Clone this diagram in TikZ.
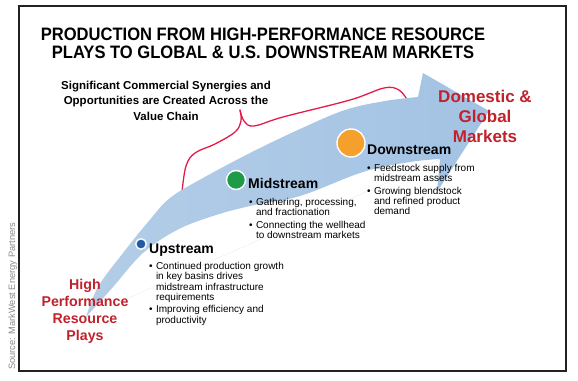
\documentclass[tikz,border=0pt]{standalone}
\usepackage{fontspec}
\setmainfont{Liberation Sans}
\usepackage{graphicx}
\definecolor{framec}{HTML}{222222}
\definecolor{redtxt}{HTML}{C0222B}
\definecolor{bracec}{HTML}{E31B4B}
\definecolor{arrowA}{HTML}{B3CDE7}
\definecolor{arrowB}{HTML}{86AACF}
\definecolor{arrowC}{HTML}{A3C3E4}
\definecolor{upc}{HTML}{1F5BA8}
\definecolor{midc}{HTML}{1E9B48}
\definecolor{downc}{HTML}{F5A02C}
\definecolor{srcc}{HTML}{8A8A8A}
\begin{document}
\begin{tikzpicture}[x=1pt,y=-1pt,
  stagelabel/.style={font=\fontsize{14}{16}\selectfont\bfseries, anchor=base west, inner sep=0pt},
  bullets/.style={font=\fontsize{10}{10.2}\selectfont, anchor=base west, inner sep=0pt},
  redlabel/.style={text=redtxt, anchor=base, inner sep=0pt},
  stagedot/.style={circle, draw=white, line width=1.4pt, inner sep=0pt},
  braceline/.style={draw=bracec, line width=1.3pt, line cap=round},
]
\useasboundingbox (0,0) rectangle (578,380);
\draw[framec, line width=2.4pt] (19,6) rectangle (566,371);

% title
\node[anchor=base, inner sep=0pt, font=\fontsize{18}{18.5}\selectfont\bfseries] (title) at (263,40)
  {\scalebox{0.92}[1]{\begin{tabular}[t]{@{}c@{}}PRODUCTION FROM HIGH-PERFORMANCE RESOURCE\\PLAYS TO GLOBAL \& U.S. DOWNSTREAM MARKETS\end{tabular}}};

% subtitle
\node[anchor=base, inner sep=0pt, font=\fontsize{11.5}{15.5}\selectfont\bfseries] (sub) at (166,89)
  {\begin{tabular}[t]{@{}c@{}}Significant Commercial Synergies and\\Opportunities are Created Across the\\Value Chain\end{tabular}};

% brace
\draw[braceline] plot[smooth, tension=0.6] coordinates {(240,110) (241,121) (235,132) (215,144) (195,153) (186,166) (182,192)};
\draw[braceline] plot[smooth, tension=0.6] coordinates {(240,110) (244,121) (254,126) (283,117) (350,100) (384,88) (399,90) (408,101)};

% arrow
\path[left color=arrowA, middle color=arrowB, right color=arrowC]
  plot[smooth, tension=0.6] coordinates {(86,317) (98,287) (123,253) (148,222) (170,198) (203,178) (250,153) (300,129) (345,110) (385,101) (418,97)}
  -- (423,73) -- (489,111) -- (437,192) -- (440,159)
  plot[smooth, tension=0.6] coordinates {(440,159) (410,162) (363,172) (300,196) (250,206) (213,216) (177,230) (143,253) (113,287) (86,317)}
  -- cycle;

% dots
\node[stagedot, fill=upc, minimum size=10.5pt] (updot) at (141,244) {};
\node[stagedot, fill=midc, minimum size=19pt] (middot) at (236,180) {};
\node[stagedot, fill=downc, minimum size=28pt] (downdot) at (351,143) {};

% stage labels
\node[stagelabel] (up) at (149,253) {Upstream};
\node[stagelabel] (mid) at (248,188) {Midstream};
\node[stagelabel] (down) at (367,154) {Downstream};

% bullets
\node[bullets] (upb) at (149,269.5) {\begin{tabular}[t]{@{}l@{\hspace{3.3pt}}l@{}}•&Continued production growth\\&in key basins drives\\&midstream infrastructure\\&requirements\\[2pt]•&Improving efficiency and\\&productivity\end{tabular}};
\node[bullets] (midb) at (249,205.5) {\begin{tabular}[t]{@{}l@{\hspace{3.3pt}}l@{}}•&Gathering, processing,\\&and fractionation\\[2pt]•&Connecting the wellhead\\&to downstream markets\end{tabular}};
\node[bullets] (downb) at (367,171.5) {\begin{tabular}[t]{@{}l@{\hspace{3.3pt}}l@{}}•&Feedstock supply from\\&midstream assets\\[2pt]•&Growing blendstock\\&and refined product\\&demand\end{tabular}};

% red labels
\node[redlabel, font=\fontsize{14.2}{17.3}\selectfont\bfseries] (hprp) at (85,289)
  {\begin{tabular}[t]{@{}c@{}}High\\Performance\\Resource\\Plays\end{tabular}};
\node[redlabel, font=\fontsize{17}{20}\selectfont\bfseries] (dgm) at (485,102)
  {\begin{tabular}[t]{@{}c@{}}Domestic \&\\Global\\Markets\end{tabular}};

% source
\node[rotate=90, anchor=base west, inner sep=0pt, text=srcc, font=\fontsize{9.3}{11}\selectfont] (src) at (15,370) {Source: MarkWest Energy Partners};
\end{tikzpicture}
\end{document}
